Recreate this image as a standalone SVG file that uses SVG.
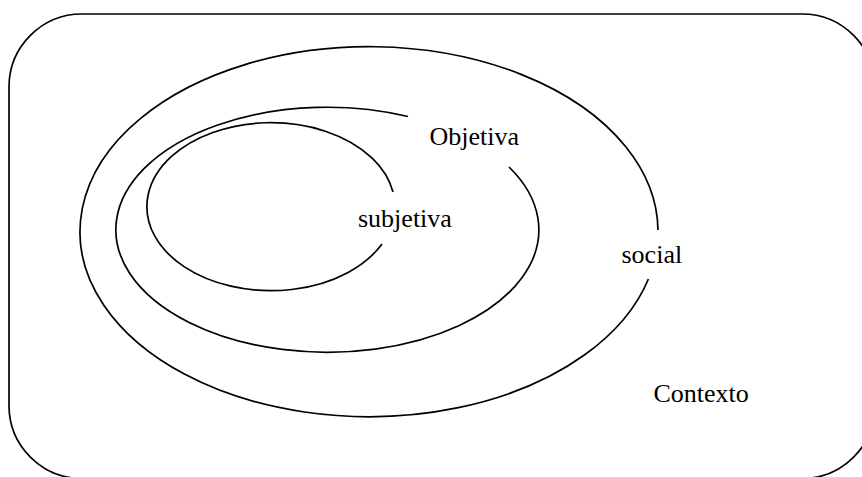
<svg xmlns="http://www.w3.org/2000/svg" width="862" height="477" viewBox="0 0 862 477">
<style>
.ln{fill:none;stroke:#000;stroke-width:1.7}
.lb{font-family:"Liberation Serif","Times New Roman",serif;font-size:26px;fill:#000}
</style>
<rect width="862" height="477" fill="#fff"/>
<g id="contexto">
<rect class="ln" x="9" y="14" width="866" height="464.5" rx="73" ry="73"/>
<text class="lb" x="653.5" y="402">Contexto</text>
</g>
<g id="connectors">
<path id="arc-social" class="ln" d="M648.4,279 A289,185 0 1 1 658,230"/>
<path id="arc-objetiva" class="ln" d="M509,167 A211.5,122.5 0 1 1 408,116.5"/>
<path id="arc-subjetiva" class="ln" d="M382,244 A124,84 0 1 1 393,192"/>
</g>
<g id="social"><text class="lb" x="621.5" y="263">social</text></g>
<g id="objetiva"><text class="lb" x="429.5" y="145">Objetiva</text></g>
<g id="subjetiva"><text class="lb" x="358" y="227">subjetiva</text></g>
</svg>
